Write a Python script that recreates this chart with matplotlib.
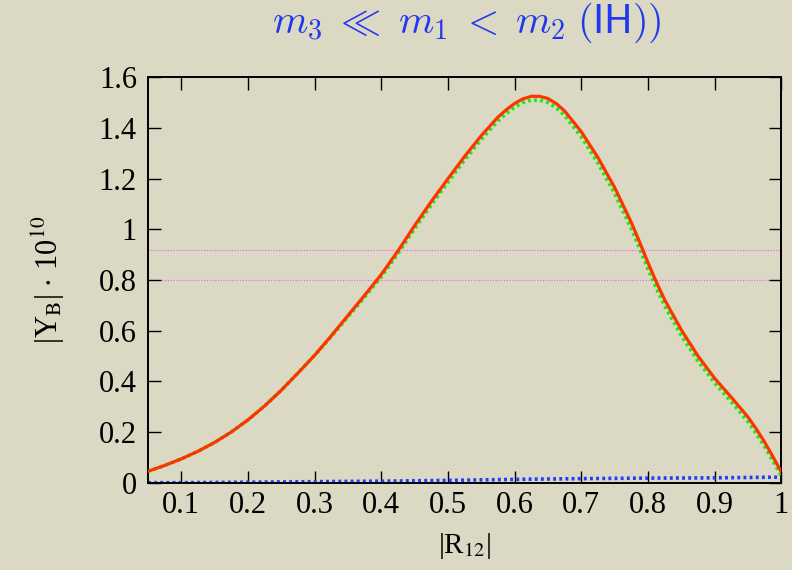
import numpy as np
import matplotlib.pyplot as plt

# |R12| grid shared by the curves (finer around the peak and the tail)
r12 = [0.050, 0.075, 0.100, 0.125, 0.150, 0.175, 0.200, 0.225, 0.250, 0.275,
       0.300, 0.325, 0.350, 0.375, 0.400, 0.425, 0.450, 0.475, 0.500, 0.525,
       0.550, 0.575, 0.5875, 0.600, 0.6125, 0.625, 0.6375, 0.650, 0.6625, 0.675,
       0.700, 0.725, 0.750, 0.775, 0.7875, 0.800, 0.8125, 0.825, 0.850, 0.875,
       0.900, 0.925, 0.9375, 0.950, 0.9625, 0.975, 0.9875, 1.000]

# |Y_B| * 1e10, full result (solid red)
yb_full = [0.045, 0.068, 0.094, 0.124, 0.159, 0.200, 0.248, 0.303, 0.365, 0.433,
           0.503, 0.580, 0.660, 0.740, 0.822, 0.915, 1.015, 1.110, 1.200, 1.288,
           1.370, 1.443, 1.472, 1.497, 1.515, 1.525, 1.525, 1.516, 1.496, 1.467,
           1.385, 1.283, 1.165, 1.027, 0.949, 0.868, 0.792, 0.722, 0.603, 0.500,
           0.412, 0.337, 0.298, 0.259, 0.212, 0.160, 0.102, 0.042]

# approximate result (dotted green)
yb_approx = [0.045, 0.068, 0.094, 0.124, 0.159, 0.200, 0.248, 0.303, 0.365, 0.433,
             0.503, 0.577, 0.655, 0.733, 0.813, 0.904, 1.003, 1.097, 1.186, 1.274,
             1.355, 1.428, 1.457, 1.482, 1.500, 1.510, 1.510, 1.500, 1.479, 1.449,
             1.365, 1.261, 1.141, 1.002, 0.924, 0.843, 0.768, 0.698, 0.581, 0.480,
             0.394, 0.319, 0.280, 0.241, 0.194, 0.142, 0.085, 0.027]

# small contribution (dotted blue)
r12_small = [0.05, 0.10, 0.20, 0.30, 0.40, 0.50, 0.60, 0.70, 0.80, 0.90, 1.00]
yb_small = [0.000, 0.000, 0.002, 0.004, 0.006, 0.009, 0.013, 0.016, 0.018, 0.019, 0.022]

# observed range
yb_obs = [0.80, 0.92]

xticks = [0.1, 0.2, 0.3, 0.4, 0.5, 0.6, 0.7, 0.8, 0.9, 1.0]
yticks = [0, 0.2, 0.4, 0.6, 0.8, 1.0, 1.2, 1.4, 1.6]

plt.rcParams['font.family'] = ['Liberation Serif', 'DejaVu Serif']

bg = '#dbd9c3'
fig = plt.figure(figsize=(7.92, 5.70), dpi=100, facecolor=bg)
ax = fig.add_axes([0.1869, 0.1532, 0.7996, 0.7112])
ax.set_facecolor(bg)

for y in yb_obs:
    ax.axhline(y, color='#ff4dff', lw=0.8, ls=(0, (1, 1.5)), zorder=1)

ax.plot(r12_small, yb_small, color='#1f3cff', lw=2.6, ls=(0, (0.8, 0.9)), zorder=2)
ax.plot(r12, yb_approx, color='#11ee11', lw=2.6, ls=(0, (0.8, 0.9)), zorder=3)
ax.plot(r12, yb_full, color='#ff3300', lw=2.3, zorder=4)

ax.set_xlim(0.05, 1.0)
ax.set_ylim(0, 1.6)
ax.set_xticks(xticks)
ax.set_yticks(yticks)
ax.set_xticklabels(['%g' % t for t in xticks])
ax.set_yticklabels(['%g' % t for t in yticks])
ax.tick_params(direction='in', length=9, width=1, top=True, right=True,
               labelsize=22, pad=6)
ax.tick_params(axis='y', pad=8)
for s in ax.spines.values():
    s.set_linewidth(1.4)

ax.set_xlabel(r'|R$_{12}$|', fontsize=21, va='top', math_fontfamily='stix')
ax.xaxis.set_label_coords(0.5, -0.118)
ax.set_ylabel(r'|Y$_\mathrm{B}$| $\cdot$ 10$^{10}$', fontsize=22,
              math_fontfamily='stix')
ax.yaxis.set_label_coords(-0.128, 0.5)

fig.text(0.589, 1 - 33 / 570,
         r'$m_3 \;\ll\; m_1 \;<\; m_2\;\mathsf{(IH))}$',
         color='#2238f0', fontsize=29, ha='center', va='baseline',
         math_fontfamily='cm')

fig.savefig('out.png', dpi=100, facecolor=bg)
